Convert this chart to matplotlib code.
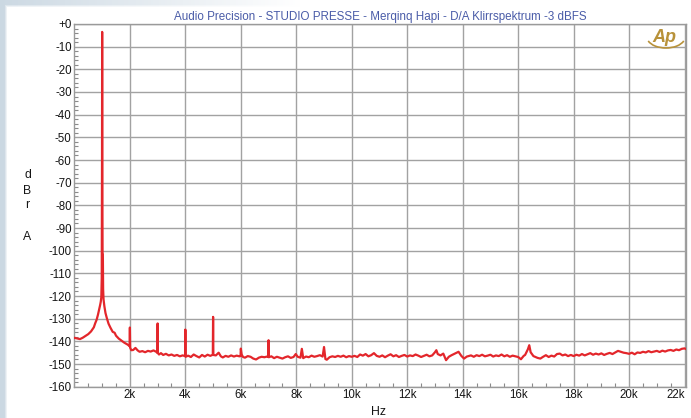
import numpy as np
import matplotlib.pyplot as plt
from matplotlib.patches import Arc

plt.rcParams['font.family'] = ['Liberation Sans', 'DejaVu Sans']

title = 'Audio Precision - STUDIO PRESSE - Merqinq Hapi - D/A Klirrspektrum -3 dBFS'

# FFT trace: frequency (Hz) and level (dBrA)
freq = [20, 100, 200, 300, 400, 500, 600, 700, 750, 800, 850, 900, 930, 950, 970, 985,
        995, 1000, 1005, 1015, 1025, 1035, 1050, 1080, 1120, 1170, 1230, 1300, 1380, 1450,
        1500, 1600, 1700, 1800, 1900, 1960, 1990, 2000, 2010, 2050, 2120, 2200, 2280, 2350,
        2450, 2550, 2650, 2750, 2850, 2950, 2990, 3000, 3010, 3050, 3120, 3200, 3300, 3400,
        3500, 3600, 3700, 3800, 3900, 3990, 4000, 4010, 4100, 4200, 4300, 4400, 4500, 4600,
        4700, 4800, 4900, 4990, 5000, 5010, 5100, 5200, 5280, 5350, 5450, 5550, 5650, 5750,
        5850, 5950, 5990, 6000, 6030, 6080, 6150, 6250, 6350, 6450, 6550, 6650, 6750, 6850,
        6950, 6990, 7000, 7010, 7100, 7200, 7300, 7400, 7500, 7600, 7700, 7800, 7900, 7980,
        8050, 8150, 8200, 8250, 8350, 8450, 8550, 8650, 8750, 8850, 8950, 9000, 9050, 9100,
        9200, 9300, 9400, 9500, 9600, 9700, 9800, 9900, 10000, 10100, 10200, 10300, 10400,
        10500, 10600, 10700, 10800, 10900, 11000, 11100, 11200, 11300, 11400, 11500, 11600,
        11700, 11800, 11900, 12000, 12100, 12200, 12300, 12400, 12500, 12600, 12700, 12800,
        12900, 13000, 13050, 13100, 13200, 13300, 13400, 13500, 13600, 13750, 13850, 13950,
        14050, 14150, 14300, 14400, 14500, 14600, 14700, 14800, 14900, 15000, 15100, 15200,
        15300, 15400, 15500, 15600, 15700, 15800, 15900, 16000, 16100, 16200, 16250, 16350,
        16400, 16450, 16550, 16700, 16800, 16900, 17000, 17100, 17200, 17300, 17400, 17500,
        17600, 17700, 17800, 17900, 18000, 18100, 18200, 18300, 18400, 18500, 18600, 18700,
        18800, 18900, 19000, 19100, 19200, 19300, 19400, 19500, 19600, 19700, 19800, 19900,
        20000, 20100, 20200, 20300, 20400, 20500, 20600, 20700, 20800, 20900, 21000, 21100,
        21200, 21300, 21400, 21500, 21600, 21700, 21800, 21900, 22000, 22050]
level = [-138.5, -138.7, -139.0, -138.4, -137.6, -136.8, -135.6, -133.8, -132.0, -130.5, -128.2, -125.5, -123.8, -122.5, -120.5, -112.0,
         -60.0, -3.5, -60.0, -101.0, -101.5, -117.0, -121.5, -124.5, -127.5, -129.8, -132.2, -134.0, -135.8, -136.2,
         -137.5, -138.8, -139.7, -140.6, -141.3, -141.8, -142.2, -133.9, -142.8, -143.9, -143.8, -142.9, -144.0, -144.6,
         -144.3, -144.8, -144.2, -144.5, -144.0, -144.6, -145.1, -132.1, -145.2, -145.8, -145.2, -146.0, -145.5, -146.2,
         -145.8, -146.4, -146.0, -146.6, -146.2, -146.5, -134.8, -146.8, -146.3, -146.9, -145.8, -146.5, -147.1, -146.0,
         -146.7, -145.9, -146.4, -145.9, -129.2, -146.0, -146.2, -145.0, -146.6, -147.1, -146.4, -146.8, -146.2, -146.7,
         -146.3, -146.6, -146.5, -143.2, -145.8, -146.9, -147.2, -146.5, -146.8, -147.6, -148.0, -147.2, -146.8, -147.0,
         -146.7, -146.9, -139.5, -147.0, -146.6, -147.4, -146.8, -147.2, -147.6, -147.0, -146.6, -147.3, -146.9, -145.6,
         -146.8, -147.2, -143.3, -147.4, -146.7, -147.0, -146.3, -146.8, -146.5, -146.1, -146.7, -142.5, -147.8, -148.1,
         -147.0, -146.6, -146.9, -146.4, -146.8, -146.3, -147.0, -146.5, -146.8, -146.4, -146.9, -145.8, -146.3,
         -145.6, -146.6, -146.1, -145.2, -146.4, -146.8, -146.2, -147.0, -146.3, -145.7, -146.6, -146.1,
         -146.9, -146.4, -146.0, -146.7, -146.2, -146.5, -145.8, -146.3, -146.9, -146.4, -145.9, -146.6,
         -146.2, -144.8, -143.9, -145.6, -146.2, -145.4, -148.3, -146.8, -146.1, -145.2, -144.6, -146.4,
         -147.6, -146.7, -146.2, -146.8, -146.1, -146.5, -145.9, -146.6, -146.3, -145.9, -146.7, -146.2,
         -146.5, -145.8, -146.6, -146.1, -146.8, -146.3, -146.6, -146.9, -147.9, -146.4, -146.0, -143.5,
         -141.7, -144.8, -146.5, -147.3, -147.6, -146.8, -146.1, -146.9, -146.3, -146.7, -145.6, -145.4,
         -146.2, -145.8, -146.5, -146.0, -146.5, -145.9, -146.3, -145.6, -146.2, -145.7, -145.2, -145.9,
         -145.4, -145.8, -145.3, -146.0, -145.5, -145.1, -145.6, -144.9, -144.2, -144.6, -145.0, -145.2,
         -145.5, -145.0, -145.7, -144.9, -145.1, -144.6, -144.9, -144.3, -144.8, -144.5, -144.2, -144.7,
         -144.1, -144.5, -144.0, -143.8, -144.2, -143.6, -143.9, -143.3, -143.1, -143.4]

y_ticks = list(range(0, -161, -10))
y_labels = ['+0'] + [str(v) for v in y_ticks[1:]]
x_ticks = list(range(2000, 22001, 2000))
x_labels = ['%dk' % (v // 1000) for v in x_ticks]

fig = plt.figure(figsize=(6.91, 4.18), dpi=100)

# pale blue-grey frame along the left and top edges
bg = fig.add_axes([0, 0, 1, 1], zorder=-10)
bg.set_axis_off()
grad = np.ones((418, 691, 3))
edge = np.array([0.80, 0.85, 0.89])
cols = np.arange(691)
rows = np.arange(418)
left_w = np.clip(1 - (cols - 4) / 3.0, 0, 1)
top_w = np.clip(1 - (rows - 4) / 3.0, 0, 1)[:, None] * np.clip(1 - cols / 300.0, 0, 1)[None, :]
w = np.maximum(left_w[None, :].repeat(418, 0), top_w)
grad = grad * (1 - w[..., None]) + edge * w[..., None]
bg.imshow(grad, aspect='auto', extent=[0, 1, 0, 1])

ax = fig.add_axes([0.1077, 0.0749, 0.885, 0.8677])
ax.plot(freq, level, color='#e3262b', lw=1.6, zorder=3)

ax.set_xlim(0, 22050)
ax.set_ylim(-160, 0)
ax.set_yticks(y_ticks)
ax.set_yticklabels(y_labels)
ax.set_yticks(range(-160, 1, 2), minor=True)
ax.set_xticks(x_ticks)
ax.set_xticklabels(x_labels)
ax.set_xticks(range(0, 22051, 500), minor=True)
ax.xaxis.get_majorticklabels()[-1].set_horizontalalignment('right')
ax.xaxis.get_majorticklabels()[-1].set_x(22050)

ax.grid(True, which='major', color='#a2a2a2', lw=1.0)
ax.tick_params(which='major', length=0, labelsize=8.3, labelcolor='#151515', pad=2)
ax.tick_params(which='minor', direction='in', length=3, color='#8a8a8a', width=0.8,
               top=False, right=False)
for s in ax.spines.values():
    s.set_color('#9a9a9a')
    s.set_linewidth(1.0)

fig.text(0.551, 0.959, title, color='#4a5ca8', fontsize=8.4, ha='center', va='center')
for ch, yp in zip(['d', 'B', 'r', 'A'], [175, 190.5, 205, 237]):
    fig.text(27.5 / 691, 1 - yp / 418, ch, fontsize=8.8, color='#151515', ha='center', va='center')
fig.text(378 / 691, 1 - 412 / 418, 'Hz', fontsize=8.8, color='#151515', ha='center', va='center')

# AP logo in the upper right corner
fig.text(664 / 691, 1 - 37 / 418, 'Ap', fontsize=13, fontstyle='italic', fontweight='bold',
         color='#b8923a', ha='center', va='center')
logo = Arc((666 / 691, 1 - 37 / 418), 38 / 691, 22 / 418, angle=0, theta1=200, theta2=340,
           transform=fig.transFigure, color='#b8923a', lw=1.2)
fig.add_artist(logo)

fig.savefig('out.png', dpi=100)
